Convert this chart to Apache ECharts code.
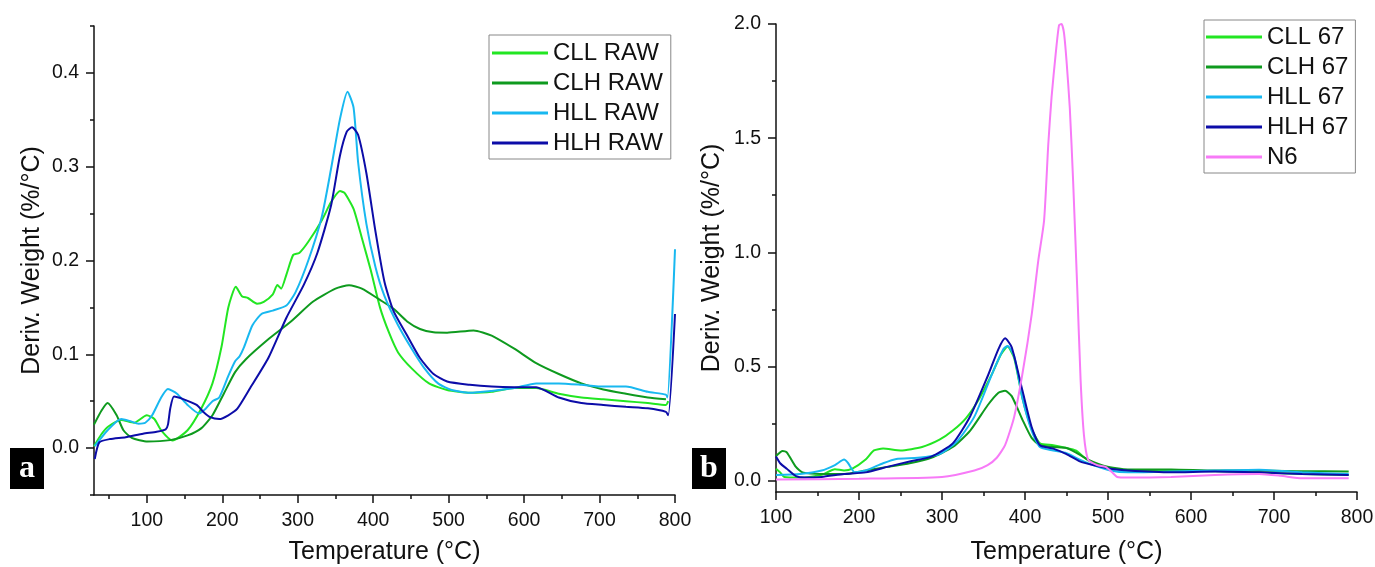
<!DOCTYPE html>
<html><head><meta charset="utf-8">
<script src="https://cdn.jsdelivr.net/npm/echarts@6/dist/echarts.min.js"></script>
<style>html,body{margin:0;padding:0;background:#fff}#c{width:1375px;height:567px}</style>
</head><body><div id="c"></div><script>
// ---------- Panel a: raw fibres ----------
const cllRawT = [30,40,49,66,83,100,110,119,134,154,172,187,199,208,218,226,234,246,255,267,273,278,285,294,302,314,332,344,356,362,374,385,397,409,421,433,451,474,498,528,557,587,616,646,676,705,735,764,788,791];
const cllRawV = [0.002,0.015,0.023,0.030,0.027,0.035,0.031,0.019,0.008,0.019,0.042,0.069,0.108,0.150,0.172,0.162,0.160,0.154,0.156,0.164,0.174,0.170,0.185,0.206,0.208,0.220,0.243,0.262,0.274,0.272,0.255,0.224,0.189,0.150,0.123,0.102,0.085,0.069,0.062,0.059,0.060,0.064,0.064,0.058,0.054,0.052,0.050,0.048,0.046,0.050];
const clhRawT = [30,40,48,60,69,80,101,131,154,172,187,202,217,231,261,291,320,350,368,385,409,427,445,462,480,498,533,557,587,616,646,676,705,735,764,788];
const clhRawV = [0.025,0.040,0.048,0.035,0.019,0.011,0.007,0.0085,0.0135,0.021,0.035,0.058,0.081,0.0945,0.116,0.135,0.156,0.170,0.1736,0.170,0.158,0.1485,0.135,0.127,0.1234,0.123,0.1254,0.120,0.106,0.0906,0.079,0.069,0.0625,0.058,0.054,0.052];
const hllRawT = [31,48,66,77,89,98,107,119,128,140,154,169,178,187,196,208,217,223,229,240,252,267,285,297,314,332,344,356,366,374,380,391,403,415,433,451,468,486,504,528,557,587,616,646,676,705,735,764,788,790,800];
const hllRawV = [0.002,0.019,0.031,0.029,0.026,0.027,0.035,0.054,0.063,0.058,0.046,0.037,0.042,0.050,0.054,0.077,0.0926,0.098,0.108,0.131,0.143,0.1466,0.152,0.166,0.200,0.247,0.297,0.351,0.380,0.363,0.305,0.239,0.193,0.162,0.131,0.106,0.085,0.069,0.062,0.059,0.061,0.064,0.069,0.069,0.0675,0.0656,0.0656,0.060,0.057,0.054,0.212];
const hlhRawT = [31,37,51,72,95,113,125,128,131,136,149,166,175,184,196,208,220,237,261,285,308,326,344,356,365,372,380,391,403,415,427,445,462,480,498,528,557,587,616,646,676,705,735,764,788,791,800];
const hlhRawV = [-0.0116,0.006,0.0096,0.0116,0.0154,0.0174,0.020,0.025,0.042,0.055,0.052,0.046,0.0386,0.033,0.031,0.035,0.042,0.064,0.096,0.139,0.174,0.208,0.258,0.312,0.3375,0.342,0.334,0.293,0.231,0.177,0.146,0.120,0.096,0.079,0.071,0.0675,0.0656,0.065,0.065,0.054,0.048,0.046,0.044,0.0424,0.0386,0.035,0.143];

// ---------- Panel b: 67 composites and N6 ----------
const cll67T = [100,105,110,129,155,171,182,192,208,218,229,250,276,297,313,329,345,361,371,379,387,397,408,418,434,450,461,476,497,524,576,629,682,734,790];
const cll67V = [0.052,0.036,0.016,0.013,0.025,0.050,0.044,0.052,0.092,0.132,0.140,0.132,0.147,0.179,0.219,0.274,0.360,0.473,0.552,0.587,0.536,0.360,0.227,0.163,0.155,0.143,0.132,0.089,0.060,0.044,0.044,0.041,0.036,0.029,0.025];
const clh67T = [100,108,113,124,132,155,182,208,234,261,287,313,334,355,368,376,384,397,408,418,434,450,461,476,497,524,576,629,682,734,790];
const clh67V = [0.108,0.130,0.124,0.060,0.036,0.029,0.029,0.044,0.060,0.076,0.100,0.147,0.219,0.330,0.385,0.393,0.370,0.266,0.187,0.155,0.147,0.143,0.124,0.092,0.063,0.049,0.049,0.044,0.044,0.041,0.040];
const hll67T = [100,129,155,171,182,187,195,208,229,245,271,297,318,339,361,374,379,387,397,408,418,434,450,466,482,503,524,576,629,682,734,790];
const hll67V = [0.025,0.029,0.044,0.068,0.092,0.076,0.036,0.044,0.076,0.095,0.100,0.116,0.171,0.280,0.473,0.576,0.590,0.544,0.360,0.219,0.147,0.132,0.120,0.092,0.068,0.044,0.036,0.040,0.044,0.048,0.036,0.029];
const hlh67T = [100,105,113,124,134,155,182,208,234,261,287,313,334,355,368,376,384,397,408,418,434,450,466,482,503,524,576,629,682,734,790];
const hlh67V = [0.105,0.076,0.052,0.020,0.013,0.016,0.029,0.036,0.060,0.084,0.105,0.163,0.282,0.457,0.576,0.623,0.584,0.393,0.235,0.155,0.140,0.116,0.084,0.068,0.052,0.044,0.036,0.040,0.036,0.029,0.025];
const n6T = [100,200,300,339,355,366,376,387,397,408,416,423,428,432,437,441,444,447,450,454,458,463,467,471,476,487,497,505,511,524,576,629,682,708,734,790];
const n6V = [0.005,0.008,0.016,0.044,0.068,0.100,0.155,0.280,0.470,0.726,0.964,1.140,1.470,1.680,1.870,1.995,2.000,1.960,1.840,1.630,1.310,0.837,0.440,0.200,0.092,0.068,0.060,0.036,0.016,0.013,0.016,0.025,0.029,0.021,0.010,0.010];

// ---------- Tick labels ----------
const aXMajor = [100,200,300,400,500,600,700,800];
const aXMinor = [50,150,250,350,450,550,650,750];
const aYMajor = [0,0.1,0.2,0.3,0.4];
const aYMinor = [-0.05,0.05,0.15,0.25,0.35,0.45];
const bXMajor = [100,200,300,400,500,600,700,800];
const bXMinor = [150,250,350,450,550,650,750];
const bYMajor = [0,0.5,1.0,1.5,2.0];
const bYMinor = [0.25,0.75,1.25,1.75];

const FONT = '"Liberation Sans", Arial, sans-serif';
const zip = (t, v) => t.map((x, i) => [x, v[i]]);

function majorAxis(grid, pos, min, max, ticks, name, gap, fmt) {
  return {
    type: 'value', gridIndex: grid, position: pos, min: min, max: max,
    name: name, nameLocation: 'middle', nameGap: gap,
    nameTextStyle: { fontSize: 25, color: '#111', fontFamily: FONT },
    axisLine: { show: true, onZero: false, lineStyle: { color: '#111', width: 1.5 } },
    axisTick: { show: true, customValues: ticks, length: 8, lineStyle: { color: '#111', width: 1.5 } },
    axisLabel: { show: true, customValues: ticks, fontSize: 19.5, color: '#111', fontFamily: FONT,
      margin: pos === 'bottom' ? 16 : 15, formatter: fmt },
    splitLine: { show: false }
  };
}
function minorAxis(grid, pos, min, max, ticks) {
  return {
    type: 'value', gridIndex: grid, position: pos, min: min, max: max,
    axisLine: { show: false, onZero: false },
    axisTick: { show: true, customValues: ticks, length: 4, lineStyle: { color: '#111', width: 1.5 } },
    axisLabel: { show: false },
    splitLine: { show: false }
  };
}
const fx = v => String(v);
const fy = v => Number(v).toFixed(1);

const C = { cll: '#22e622', clh: '#0e9a1e', hll: '#18b8f0', hlh: '#0c0ca8', n6: '#f77af7' };
function line(name, data, xi, yi, color) {
  return { type: 'line', name: name, data: data, xAxisIndex: xi, yAxisIndex: yi,
    showSymbol: false, symbol: 'none', smooth: 0.2, clip: true,
    lineStyle: { color: color, width: 2 }, itemStyle: { color: color } };
}

const legendBase = {
  orient: 'vertical', icon: 'rect', itemWidth: 56, itemHeight: 3, itemGap: 4,
  borderColor: '#888', borderWidth: 1, backgroundColor: '#fff',
  textStyle: { fontSize: 24, color: '#111', fontFamily: FONT, lineHeight: 26 }
};

function tag(letter, left) {
  return { type: 'group', left: left, top: 448, children: [
    { type: 'rect', shape: { x: 0, y: 0, width: 34, height: 41 }, style: { fill: '#000' } },
    { type: 'text', x: 17, y: 21, style: { text: letter, fill: '#fff', font: 'bold 32px "Liberation Serif", "DejaVu Serif", serif',
      textAlign: 'center', textVerticalAlign: 'middle', align: 'center', verticalAlign: 'middle' } }
  ]};
}

const option = {
  animation: false,
  backgroundColor: '#fff',
  grid: [
    { left: 94, top: 26, width: 581, height: 469, outerBoundsMode: 'none', containLabel: false },
    { left: 776, top: 24, width: 581, height: 468, outerBoundsMode: 'none', containLabel: false }
  ],
  xAxis: [
    majorAxis(0, 'bottom', 30, 800, aXMajor, 'Temperature (°C)', 45, fx),
    minorAxis(0, 'bottom', 30, 800, aXMinor),
    majorAxis(1, 'bottom', 100, 800, bXMajor, 'Temperature (°C)', 48, fx),
    minorAxis(1, 'bottom', 100, 800, bXMinor)
  ],
  yAxis: [
    majorAxis(0, 'left', -0.05, 0.45, aYMajor, 'Deriv. Weight (%/°C)', 49, fy),
    minorAxis(0, 'left', -0.05, 0.45, aYMinor),
    majorAxis(1, 'left', -0.05, 2.0, bYMajor, 'Deriv. Weight (%/°C)', 51, fy),
    minorAxis(1, 'left', -0.05, 2.0, bYMinor)
  ],
  legend: [
    Object.assign({}, legendBase, { left: 489, top: 35, padding: [5, 8, 3, 3],
      data: ['CLL RAW', 'CLH RAW', 'HLL RAW', 'HLH RAW'] }),
    Object.assign({}, legendBase, { left: 1204, top: 20, padding: [4, 7, 3, 2],
      data: ['CLL 67', 'CLH 67', 'HLL 67', 'HLH 67', 'N6'] })
  ],
  graphic: [tag('a', 10), tag('b', 692)],
  series: [
    line('CLL RAW', zip(cllRawT, cllRawV), 0, 0, C.cll),
    line('CLH RAW', zip(clhRawT, clhRawV), 0, 0, C.clh),
    line('HLL RAW', zip(hllRawT, hllRawV), 0, 0, C.hll),
    line('HLH RAW', zip(hlhRawT, hlhRawV), 0, 0, C.hlh),
    line('CLL 67', zip(cll67T, cll67V), 2, 2, C.cll),
    line('CLH 67', zip(clh67T, clh67V), 2, 2, C.clh),
    line('HLL 67', zip(hll67T, hll67V), 2, 2, C.hll),
    line('HLH 67', zip(hlh67T, hlh67V), 2, 2, C.hlh),
    line('N6', zip(n6T, n6V), 2, 2, C.n6)
  ]
};
echarts.init(document.getElementById('c'), null, { renderer: 'canvas' }).setOption(option);
</script></body></html>
